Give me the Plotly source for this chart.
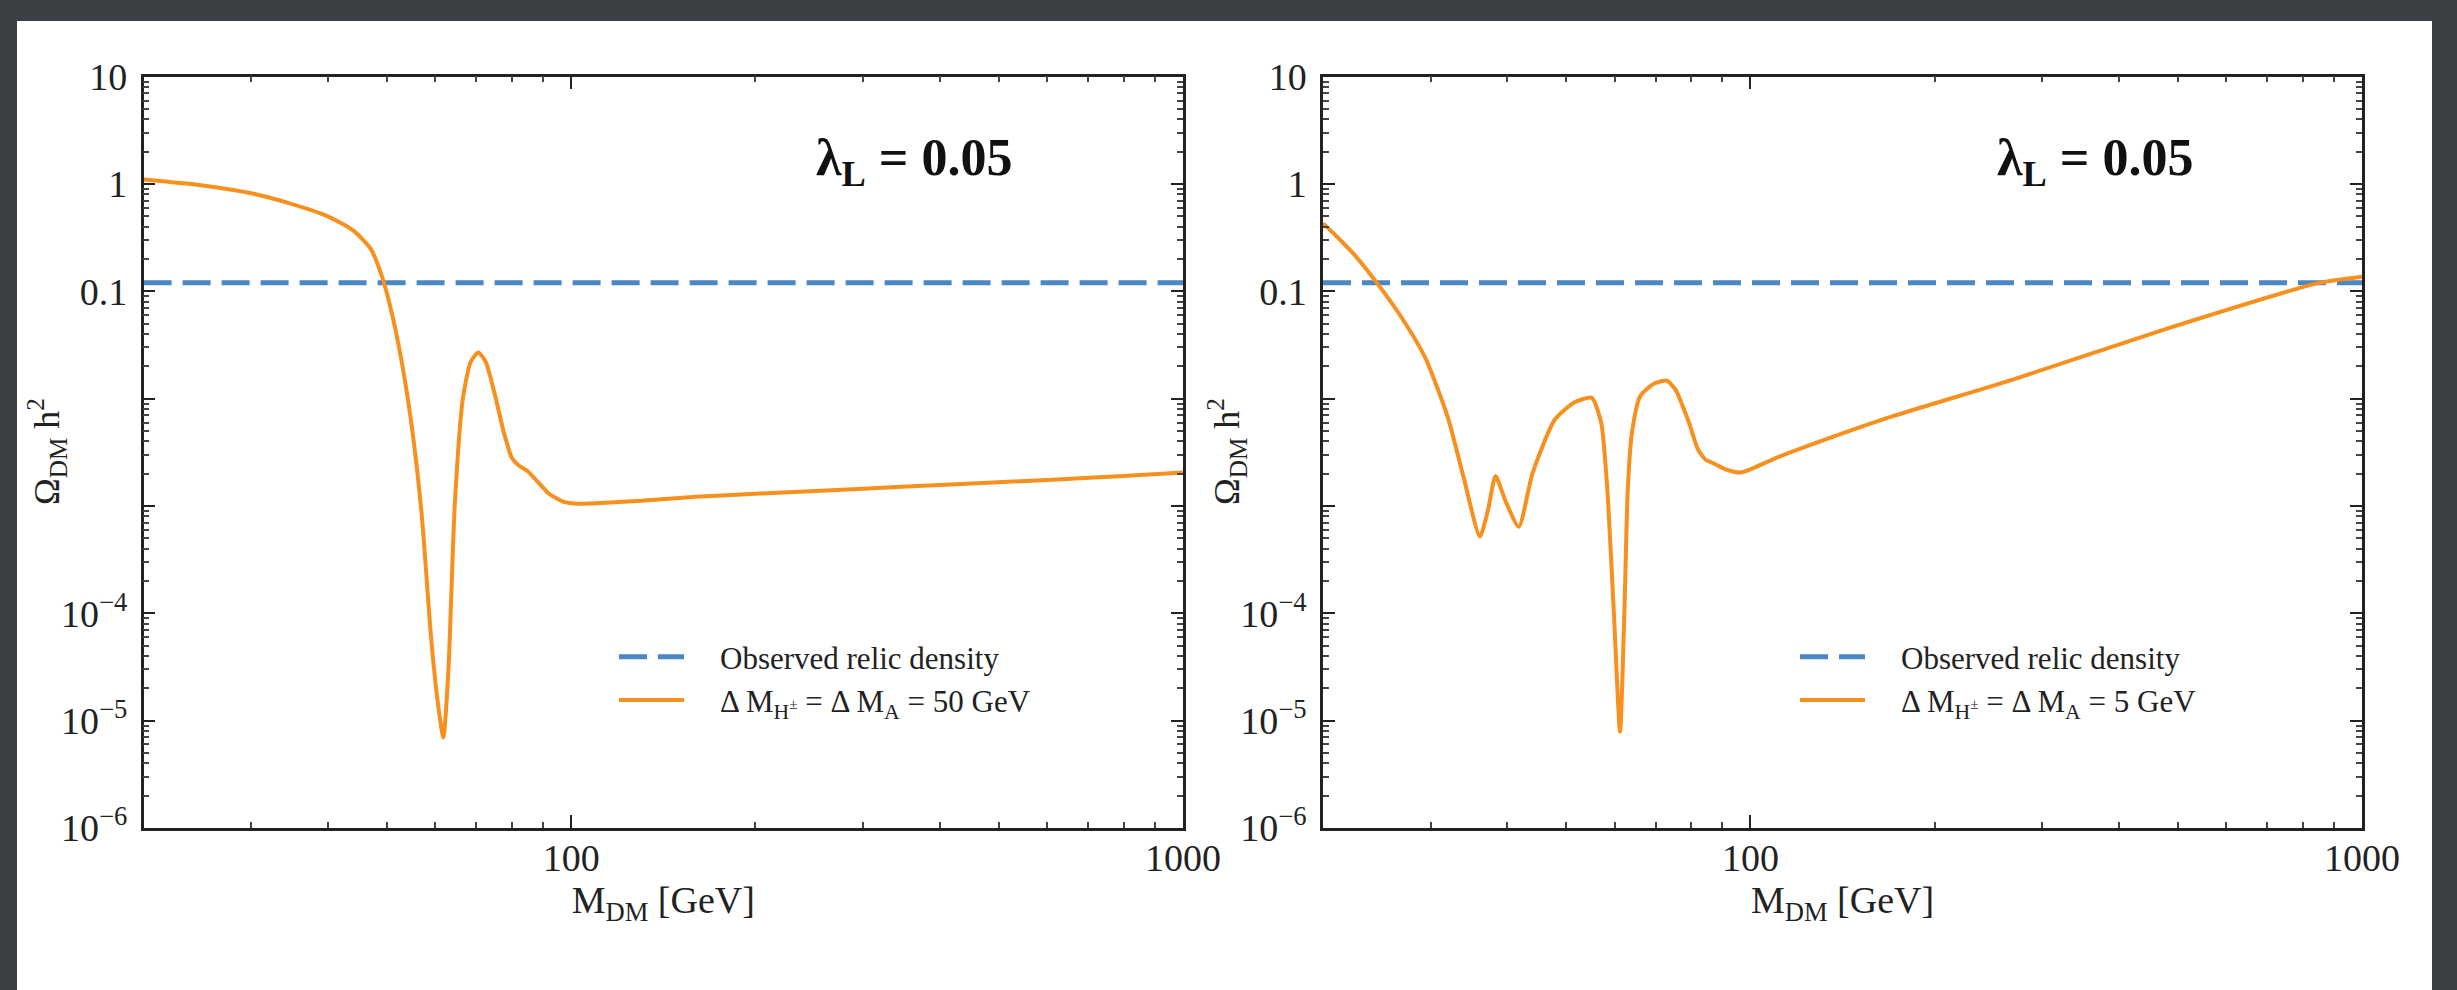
import plotly.graph_objects as go

# ---------------- data ----------------
relic_x = [20, 1000]
relic_y = [0.12, 0.12]

# Left panel: Delta M = 50 GeV
m50 = [20, 25, 30, 35, 40, 44, 47, 49, 51, 53, 55, 57, 59, 60.5, 61.8, 63, 64.5, 66.5,
       68.5, 70.5, 72.5, 75, 77.5, 80, 82, 85, 88, 92, 97, 103, 110, 130, 160, 200,
       300, 400, 600, 800, 1000]
om50 = [1.1, 0.97, 0.82, 0.65, 0.5, 0.37, 0.25, 0.14, 0.06, 0.02, 0.005, 0.0008, 6e-5,
        1.5e-5, 7e-6, 3e-5, 0.001, 0.01, 0.022, 0.027, 0.022, 0.011, 0.005, 0.0028,
        0.0024, 0.0021, 0.0017, 0.0013, 0.0011, 0.00105, 0.00106, 0.00112, 0.00122,
        0.0013, 0.00145, 0.00157, 0.00175, 0.0019, 0.00205]

# Right panel: Delta M = 5 GeV
m5 = [20, 21, 22.5, 24.5, 27, 29.4, 32, 34, 36.1, 37.2, 38.3, 39.8, 41.8, 44, 47.8, 51.5,
      55, 57, 58.3, 59.8, 61.2, 62.2, 63, 64, 66, 69.5, 73, 75.5, 77.5, 79.5, 82,
      84.5, 87, 91, 96.5, 110, 130, 170, 267, 480, 851, 1000]
om5 = [0.43, 0.33, 0.22, 0.12, 0.055, 0.024, 0.0067, 0.0018, 5.2e-4, 9e-4, 1.9e-3, 1.1e-3,
       6.4e-4, 2e-3, 6.3e-3, 0.0092, 0.0102, 0.006, 1.5e-3, 1e-4, 7.9e-6, 1e-4,
       1.4e-3, 4.8e-3, 0.0105, 0.0138, 0.0147, 0.012, 0.0085, 0.0058, 0.0034, 0.0027,
       0.0025, 0.0022, 0.00205, 0.0028, 0.004, 0.0068, 0.0149, 0.045, 0.12, 0.137]

x_tickvals = [100, 1000]
x_ticktext = ["100", "1000"]
x_minor = [30, 40, 50, 60, 70, 80, 90, 200, 300, 400, 500, 600, 700, 800, 900]
y_tickvals = [1e-6, 1e-5, 1e-4, 1e-3, 1e-2, 0.1, 1, 10]
y_ticktext = ["10<sup>−6</sup>", "10<sup>−5</sup>", "10<sup>−4</sup>", "", "", "0.1", "1", "10"]
y_minor = [m * 10.0 ** e for e in range(-6, 1) for m in range(2, 10)]

GAP = "\u00a0" * 4
label_relic = GAP + "Observed relic density"
label_50 = GAP + "Δ M<sub>H<sup>±</sup></sub> = Δ M<sub>A</sub> = 50 GeV"
label_5 = GAP + "Δ M<sub>H<sup>±</sup></sub> = Δ M<sub>A</sub> = 5 GeV"
lam_text = "<b>λ<sub>L</sub> = 0.05</b>"
x_title = "M<sub>DM</sub> [GeV]"
y_title = "Ω<sub>DM</sub> h<sup>2</sup>"

# ---------------- figure ----------------
W, H = 2457, 990
FONT = "Liberation Serif"
BLUE = "#4a87c4"
ORANGE = "#f7901e"
INK = "#222"

fig = go.Figure()

fig.add_trace(go.Scatter(x=relic_x, y=relic_y, mode="lines", name=label_relic,
                         line=dict(color=BLUE, width=5, dash="28px,11px"),
                         xaxis="x", yaxis="y", legend="legend"))
fig.add_trace(go.Scatter(x=m50, y=om50, mode="lines", name=label_50,
                         line=dict(color=ORANGE, width=4, shape="spline", smoothing=0.6),
                         xaxis="x", yaxis="y", legend="legend"))
fig.add_trace(go.Scatter(x=relic_x, y=relic_y, mode="lines", name=label_relic,
                         line=dict(color=BLUE, width=5, dash="28px,11px"),
                         xaxis="x2", yaxis="y2", legend="legend2"))
fig.add_trace(go.Scatter(x=m5, y=om5, mode="lines", name=label_5,
                         line=dict(color=ORANGE, width=4, shape="spline", smoothing=0.6),
                         xaxis="x2", yaxis="y2", legend="legend2"))

def xax(domain, anchor):
    return dict(type="log", range=[1.30103, 3.0], domain=domain, anchor=anchor,
                automargin=False,
                tickmode="array", tickvals=x_tickvals, ticktext=x_ticktext,
                ticks="inside", ticklen=13, tickwidth=2, tickcolor=INK,
                minor=dict(tickmode="array", tickvals=x_minor, ticks="inside",
                           ticklen=6, tickwidth=1.5, tickcolor="#444", showgrid=False),
                showline=True, linecolor=INK, linewidth=2.5, mirror="allticks",
                showgrid=False, zeroline=False, ticklabelstandoff=-5,
                tickfont=dict(family=FONT, size=38, color=INK),
                title=dict(text=x_title, standoff=4,
                           font=dict(family=FONT, size=38, color=INK)))

def yax(domain, anchor):
    return dict(type="log", range=[-6, 1], domain=domain, anchor=anchor,
                automargin=False,
                tickmode="array", tickvals=y_tickvals, ticktext=y_ticktext,
                ticks="inside", ticklen=12, tickwidth=2, tickcolor=INK,
                minor=dict(tickmode="array", tickvals=y_minor, ticks="inside",
                           ticklen=6, tickwidth=1.5, tickcolor="#444", showgrid=False),
                showline=True, linecolor=INK, linewidth=2.5, mirror="allticks",
                showgrid=False, zeroline=False, ticklabelstandoff=6,
                tickfont=dict(family=FONT, size=38, color=INK))

ydom = [1 - 828 / H, 1 - 76.7 / H]
legend_style = dict(xanchor="left", yanchor="top", bgcolor="rgba(0,0,0,0)",
                    itemwidth=65, tracegroupgap=0,
                    font=dict(family=FONT, size=31, color=INK))
fig.update_layout(
    width=W, height=H, autosize=False,
    margin=dict(l=0, r=0, t=0, b=0, pad=0, autoexpand=False),
    paper_bgcolor="#3c3f44",
    plot_bgcolor="white",
    showlegend=True,
    xaxis=xax([143.6 / W, 1183 / W], "y"),
    yaxis=yax(ydom, "x"),
    xaxis2=xax([1323 / W, 2362 / W], "y2"),
    yaxis2=yax(ydom, "x2"),
    legend=dict(x=614 / W, y=1 - 630 / H, **legend_style),
    legend2=dict(x=1795 / W, y=1 - 630 / H, **legend_style),
    shapes=[dict(type="rect", xref="paper", yref="paper", layer="below",
                 x0=17 / W, x1=2432 / W, y0=0, y1=1 - 21 / H,
                 fillcolor="white", line=dict(width=0))],
    annotations=[
        dict(text=lam_text, xref="paper", yref="paper", x=914 / W, y=1 - 161 / H,
             xanchor="center", yanchor="middle",
             showarrow=False, font=dict(family=FONT, size=52, color="#111")),
        dict(text=lam_text, xref="paper", yref="paper", x=2095 / W, y=1 - 161 / H,
             xanchor="center", yanchor="middle",
             showarrow=False, font=dict(family=FONT, size=52, color="#111")),
        dict(text=y_title, xref="paper", yref="paper", x=47 / W, y=1 - 452 / H,
             xanchor="center", yanchor="middle", textangle=-90,
             showarrow=False, font=dict(family=FONT, size=36, color=INK)),
        dict(text=y_title, xref="paper", yref="paper", x=1227 / W, y=1 - 452 / H,
             xanchor="center", yanchor="middle", textangle=-90,
             showarrow=False, font=dict(family=FONT, size=36, color=INK)),
    ],
)

fig.write_html(
    "out.html",
    config={"displayModeBar": False},
    post_script="document.body.style.margin='0';"
                "document.body.style.overflow='hidden';"
                "document.body.style.background='#3c3f44';",
)
